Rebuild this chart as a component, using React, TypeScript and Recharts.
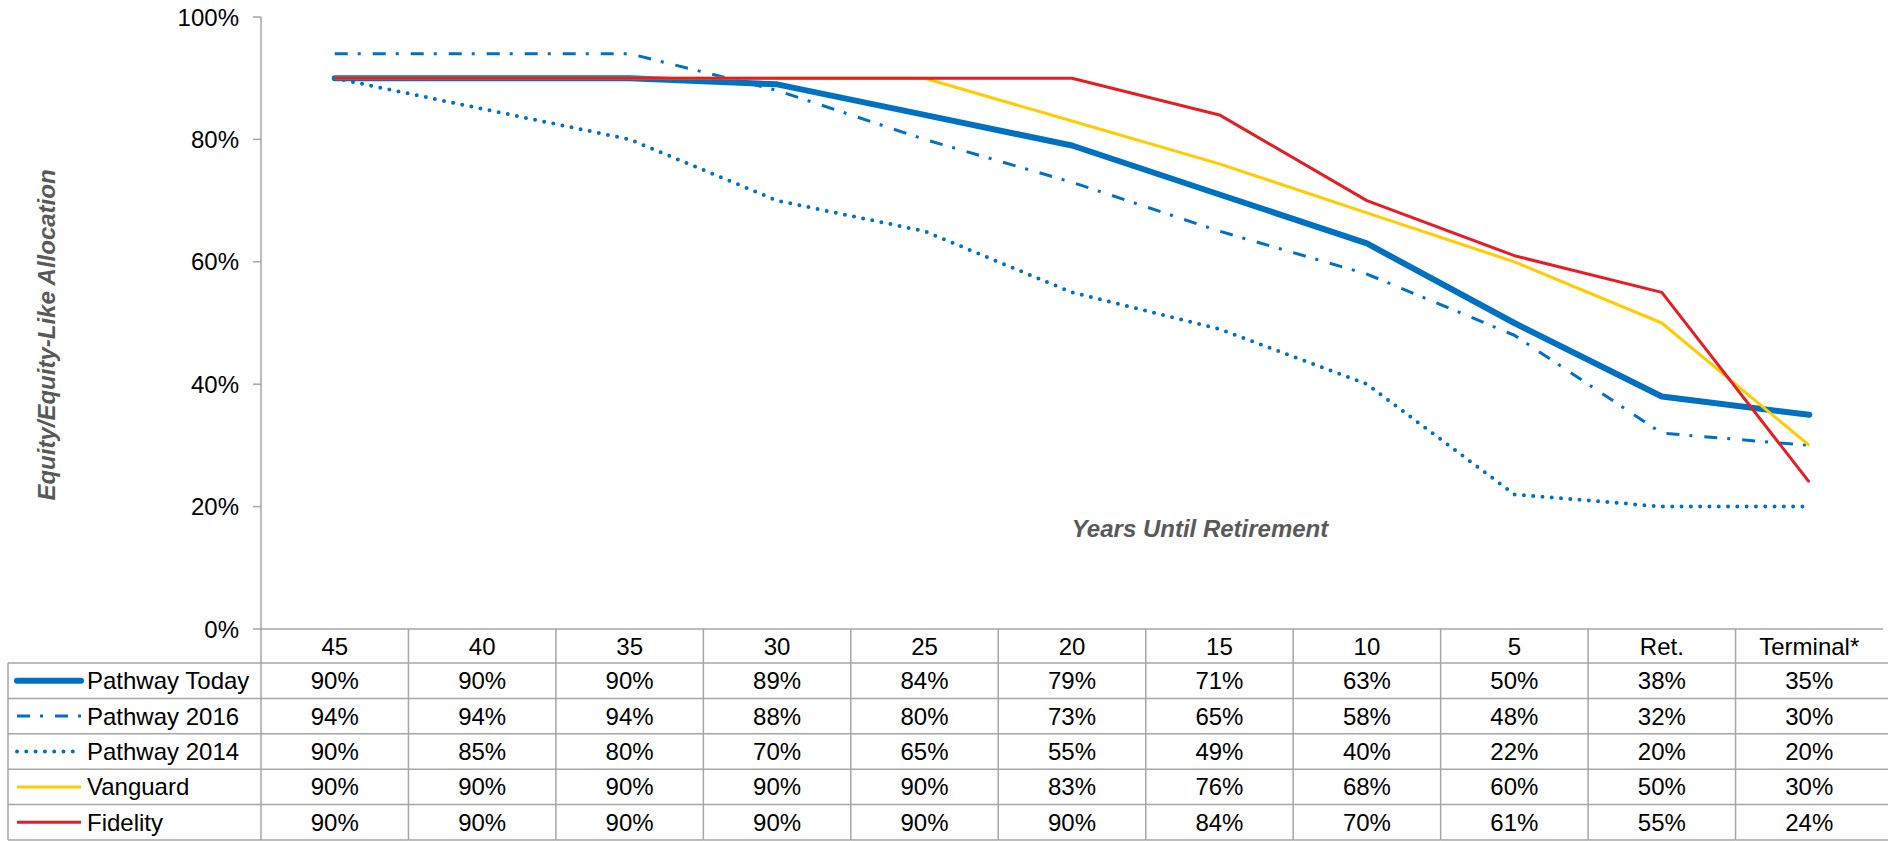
import React from 'react';
import { LineChart, Line, XAxis, YAxis } from 'recharts';

// categories along the bottom (years until retirement)
const categories = ['45', '40', '35', '30', '25', '20', '15', '10', '5', 'Ret.', 'Terminal*'];

// equity allocation %, one array per glide path
const pathwayToday = [90, 90, 90, 89, 84, 79, 71, 63, 50, 38, 35];
const pathway2016 = [94, 94, 94, 88, 80, 73, 65, 58, 48, 32, 30];
const pathway2014 = [90, 85, 80, 70, 65, 55, 49, 40, 22, 20, 20];
const vanguard = [90, 90, 90, 90, 90, 83, 76, 68, 60, 50, 30];
const fidelity = [90, 90, 90, 90, 90, 90, 84, 70, 61, 55, 24];

const yTicks = [0, 20, 40, 60, 80, 100];

const FONT = '"Liberation Sans", Arial, sans-serif';
const FS = 24;
const GRID = '#A6A6A6';
const BLUE = '#0070C0';

// layout
const W = 1888;
const H = 841;
const TOP = 17;
const Y_W = 261;
const RIGHT = 5;
const X_H = 212;
const BAND = (W - Y_W - RIGHT) / categories.length;
const HEADER_H = 34;
const TABLE_BOTTOM = 840;
const ROW_H = (TABLE_BOTTOM - (H - X_H) - HEADER_H) / 5;
const TABLE_LEFT = 8;

type Series = {
  key: string;
  name: string;
  values: number[];
  color: string;
  width: number;
  dash?: string;
  cap: 'round' | 'butt';
};

// table order
const series: Series[] = [
  { key: 'today', name: 'Pathway Today', values: pathwayToday, color: BLUE, width: 6, cap: 'round' },
  { key: 'p2016', name: 'Pathway 2016', values: pathway2016, color: BLUE, width: 3, dash: '13 10 3 12', cap: 'butt' },
  { key: 'p2014', name: 'Pathway 2014', values: pathway2014, color: BLUE, width: 4, dash: '0 9.3', cap: 'round' },
  { key: 'vanguard', name: 'Vanguard', values: vanguard, color: '#FFCC00', width: 3, cap: 'butt' },
  { key: 'fidelity', name: 'Fidelity', values: fidelity, color: '#E41E26', width: 3, cap: 'butt' },
];

// drawing order (last on top)
const drawOrder = ['p2014', 'p2016', 'today', 'vanguard', 'fidelity'];

const data = categories.map((cat, i) => {
  const row: Record<string, string | number> = { cat };
  series.forEach((s) => {
    row[s.key] = s.values[i];
  });
  return row;
});

const TableTick = (props: any) => {
  const { x, y, payload } = props;
  const i = payload.index;
  const left = x - BAND / 2;
  const right = x + BAND / 2;
  const isLast = i === categories.length - 1;
  const isFirst = i === 0;
  const lineLeft = isFirst ? TABLE_LEFT : left;
  const lineRight = isLast ? W : right;
  const rowTop = (r: number) => y + HEADER_H + r * ROW_H;

  return (
    <g>
      <text
        x={x}
        y={y + HEADER_H / 2}
        textAnchor="middle"
        dominantBaseline="central"
        fontSize={FS}
        fontFamily={FONT}
        fill="#000"
      >
        {payload.value}
      </text>
      <line x1={left} x2={left} y1={y} y2={TABLE_BOTTOM} stroke={GRID} strokeWidth={1.5} />
      {[0, 1, 2, 3, 4, 5].map((r) => (
        <line key={r} x1={lineLeft} x2={lineRight} y1={rowTop(r)} y2={rowTop(r)} stroke={GRID} strokeWidth={1.5} />
      ))}
      {series.map((s, r) => (
        <text
          key={s.key}
          x={x}
          y={rowTop(r) + ROW_H / 2}
          textAnchor="middle"
          dominantBaseline="central"
          fontSize={FS}
          fontFamily={FONT}
          fill="#000"
        >
          {`${s.values[i]}%`}
        </text>
      ))}
      {isFirst && (
        <g>
          <line x1={TABLE_LEFT} x2={TABLE_LEFT} y1={rowTop(0)} y2={TABLE_BOTTOM} stroke={GRID} strokeWidth={1.5} />
          {series.map((s, r) => {
            const cy = rowTop(r) + ROW_H / 2;
            return (
              <g key={s.key}>
                <line
                  x1={17}
                  x2={s.key === 'p2014' ? 77 : 81}
                  y1={cy}
                  y2={cy}
                  stroke={s.color}
                  strokeWidth={s.width}
                  strokeDasharray={s.dash}
                  strokeLinecap={s.cap}
                />
                <text x={87} y={cy} dominantBaseline="central" fontSize={FS} fontFamily={FONT} fill="#000">
                  {s.name}
                </text>
              </g>
            );
          })}
        </g>
      )}
    </g>
  );
};

export default function App() {
  return (
    <div style={{ position: 'absolute', left: 0, top: 0, width: W, height: H, background: '#fff' }}>
      <LineChart width={W} height={H} data={data} margin={{ top: TOP, right: RIGHT, left: 0, bottom: 0 }}>
        <XAxis
          dataKey="cat"
          scale="band"
          interval={0}
          height={X_H}
          tickSize={0}
          tickMargin={0}
          tickLine={false}
          axisLine={{ stroke: GRID, strokeWidth: 1.5 }}
          tick={<TableTick />}
        />
        <YAxis
          width={Y_W}
          domain={[0, 100]}
          ticks={yTicks}
          tickFormatter={(v) => `${v}%`}
          tickSize={8}
          tickMargin={14}
          axisLine={{ stroke: GRID, strokeWidth: 1.5 }}
          tickLine={{ stroke: GRID, strokeWidth: 1.5 }}
          tick={{ fill: '#000', fontSize: FS, fontFamily: FONT }}
        />
        {drawOrder.map((k) => {
          const s = series.find((x) => x.key === k)!;
          return (
            <Line
              key={s.key}
              dataKey={s.key}
              name={s.name}
              type="linear"
              stroke={s.color}
              strokeWidth={s.width}
              strokeDasharray={s.dash}
              strokeLinecap={s.cap}
              strokeLinejoin="round"
              dot={false}
              activeDot={false}
              isAnimationActive={false}
            />
          );
        })}
      </LineChart>
      <svg width={W} height={H} style={{ position: 'absolute', left: 0, top: 0, pointerEvents: 'none' }}>
        <text
          transform="translate(46, 335) rotate(-90)"
          textAnchor="middle"
          dominantBaseline="central"
          fontSize={FS}
          fontWeight="bold"
          fontStyle="italic"
          fontFamily={FONT}
          fill="#595959"
        >
          Equity/Equity-Like Allocation
        </text>
        <text
          x={1200}
          y={537}
          textAnchor="middle"
          fontSize={FS}
          fontWeight="bold"
          fontStyle="italic"
          fontFamily={FONT}
          fill="#595959"
        >
          Years Until Retirement
        </text>
      </svg>
    </div>
  );
}
